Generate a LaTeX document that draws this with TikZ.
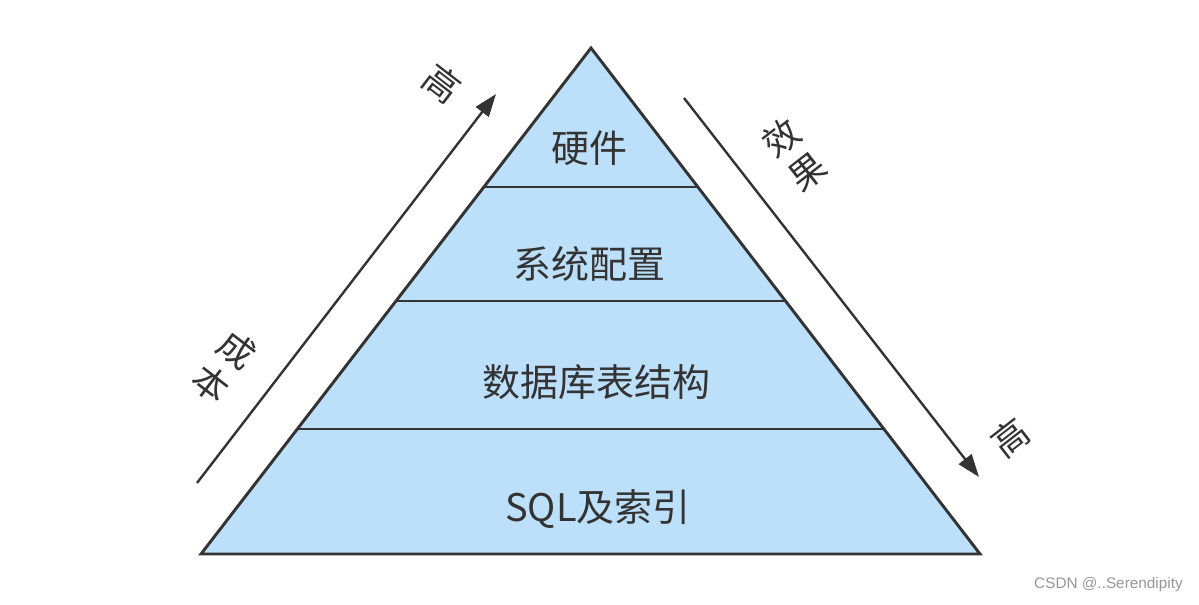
\documentclass[tikz,border=0pt]{standalone}
\usepackage{fontspec}
\setmainfont{Noto Sans CJK SC}
\newfontfamily\wmfont{Liberation Sans}
\usepackage{tikz}
\usepackage{xcolor}
\usetikzlibrary{calc,arrows.meta}

\definecolor{pyrfill}{RGB}{189,224,250}
\definecolor{pyrline}{RGB}{51,51,51}
\definecolor{wmgray}{RGB}{150,150,150}

\tikzset{
  pyrbody/.style={draw=pyrline, fill=pyrfill, line width=2.2pt, line join=miter},
  layerline/.style={draw=pyrline, line width=2pt},
  layertext/.style={inner sep=0pt, text=pyrline, font=\fontsize{28.5}{30}\selectfont},
  sidearrow/.style={draw=pyrline, line width=1.8pt, -{Triangle[length=17pt,width=12pt]}},
  sidetext/.style={inner sep=0pt, text=pyrline, align=center, font=\fontsize{27}{32}\selectfont}
}

\begin{document}
\begin{tikzpicture}[x=0.75pt,y=0.75pt,yscale=-1,xscale=1]
\path[use as bounding box] (0,0) rectangle (1199,605);

%Pyramid corners
    \coordinate (apex) at (591,48);
    \coordinate (bl) at (201,554);
    \coordinate (br) at (980,554);
%Triangle
    \draw[pyrbody] (apex) -- (bl) -- (br) -- cycle;
%Layer lines
    \draw[layerline] ($(apex)!0.275!(bl)$) -- ($(apex)!0.275!(br)$);
    \draw[layerline] ($(apex)!0.5!(bl)$) -- ($(apex)!0.5!(br)$);
    \draw[layerline] ($(apex)!0.753!(bl)$) -- ($(apex)!0.753!(br)$);

% Text Node
    \node[layertext] (hw) at (589,148) {硬件};
% Text Node
    \node[layertext] (sys) at (589,264) {系统配置};
% Text Node
    \node[layertext] (db) at (596,382) {数据库表结构};
% Text Node
    \node[layertext] (sql) at (598,509) {SQL及索引};

%Cost arrow
    \coordinate (costS) at (197,483);
    \coordinate (costE) at (496,94);
    \draw[sidearrow] (costS) -- (costE);
%Effect arrow
    \coordinate (effS) at (684,98);
    \coordinate (effE) at (979,477);
    \draw[sidearrow] (effS) -- (effE);

% Text Node
    \node[sidetext, rotate=-37.5] (cost) at (224,367) {成\\本};
% Text Node
    \node[sidetext, rotate=-37.5] (costhi) at (442,84) {高};
% Text Node
    \node[sidetext, rotate=37.8] (eff) at (794,155) {效\\果};
% Text Node
    \node[sidetext, rotate=37.8] (effhi) at (1010,438) {高};

% Watermark
    \node[anchor=east, inner sep=0pt, text=wmgray, font=\wmfont\fontsize{11.5}{12}\selectfont] (wm) at (1183,585) {CSDN @..Serendipity};

\end{tikzpicture}
\end{document}
